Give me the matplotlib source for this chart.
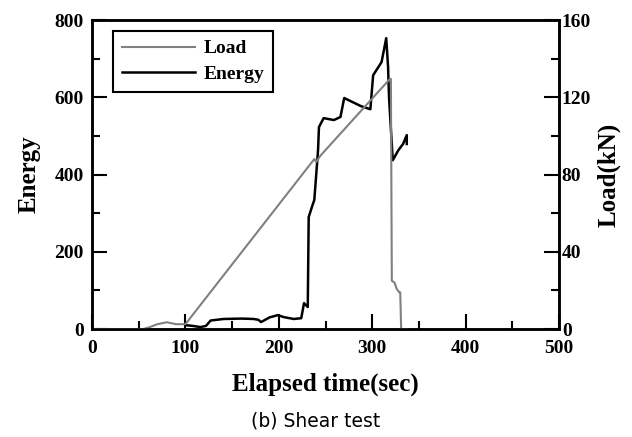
import matplotlib.pyplot as plt
from matplotlib.ticker import MultipleLocator

# Energy (left axis)
t_energy = [100, 108, 116, 122, 127, 141, 160, 173, 178, 181, 190, 199, 205, 216,
            224, 227, 231, 232, 236, 238, 241, 242, 243, 248, 259, 266, 270, 288,
            298, 301, 310, 315, 317, 318, 322, 328, 333, 337, 337]
energy = [10, 8, 5, 8, 22, 26, 27, 26, 24, 18, 30, 36, 31, 26,
          28, 67, 57, 290, 320, 334, 430, 463, 523, 546, 541, 549, 598, 577,
          569, 657, 691, 753, 678, 600, 437, 463, 479, 502, 479]

# Load (right axis, kN)
t_load = [0, 55, 62, 70, 75, 80, 85, 90, 100, 238, 240, 245, 319, 320,
          321, 324, 326, 329, 330, 331, 336]
load = [0, 0, 1, 2.5, 3, 3.5, 3, 2.5, 2.5, 88, 86.5, 90, 129.5, 129.5,
        25, 24, 21, 19, 19, 0, 0]

serif = 'Liberation Serif'

fig = plt.figure(figsize=(6.32, 4.37), dpi=100)
ax = fig.add_axes([0.1456, 0.2471, 0.7389, 0.7071])
ax2 = ax.twinx()

l1, = ax2.plot(t_load, load, color='#808080', lw=1.5, label='Load')
l2, = ax.plot(t_energy, energy, color='black', lw=1.8, label='Energy')

ax.set_xlim(0, 500)
ax.set_ylim(0, 800)
ax2.set_ylim(0, 160)
ax.xaxis.set_major_locator(MultipleLocator(100))
ax.xaxis.set_minor_locator(MultipleLocator(50))
ax.yaxis.set_major_locator(MultipleLocator(200))
ax.yaxis.set_minor_locator(MultipleLocator(100))
ax2.yaxis.set_major_locator(MultipleLocator(40))
ax2.yaxis.set_minor_locator(MultipleLocator(20))

for a in (ax, ax2):
    a.tick_params(which='both', direction='in', width=1.5)
    a.tick_params(which='major', length=11)
    a.tick_params(which='minor', length=5.5)
    for s in a.spines.values():
        s.set_linewidth(1.8)
    for lab in a.get_xticklabels() + a.get_yticklabels():
        lab.set_fontfamily(serif)
        lab.set_fontweight('bold')
        lab.set_fontsize(14)
ax.tick_params(axis='x', pad=8)
ax.tick_params(axis='y', pad=6)
ax2.tick_params(axis='y', pad=2)

ax.set_xlabel('Elapsed time(sec)', family=serif, weight='bold', fontsize=18, labelpad=11)
ax.set_ylabel('Energy', family=serif, weight='bold', fontsize=18, labelpad=10)
ax2.set_ylabel('Load(kN)', family=serif, weight='bold', fontsize=18, labelpad=4)

leg = ax.legend(handles=[l1, l2], loc='upper left', bbox_to_anchor=(0.045, 0.964),
                borderaxespad=0,
                prop={'family': serif, 'weight': 'bold', 'size': 14},
                fancybox=False, edgecolor='black', framealpha=1,
                handlelength=3.75, handletextpad=0.45, borderpad=0.45,
                labelspacing=0.4)
leg.get_frame().set_linewidth(1.5)

fig.text(0.5, 0.037, '(b) Shear test', ha='center', va='center',
         family='DejaVu Sans', fontsize=13.5)

plt.savefig('out.png', dpi=100)
